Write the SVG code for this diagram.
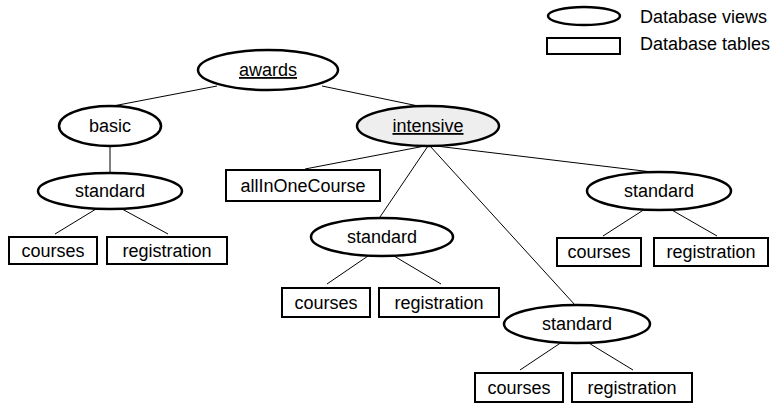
<svg xmlns="http://www.w3.org/2000/svg" width="775" height="410" viewBox="0 0 775 410">
<style>
  text { font-family: "Liberation Sans", Arial, sans-serif; font-size: 18px; fill: #000; text-anchor: middle; }
  .view { fill: #fff; stroke: #000; stroke-width: 2.5; }
  .view.sel { fill: #eeeeee; }
  .table { fill: #fff; stroke: #000; stroke-width: 2; }
  .edge { stroke: #000; stroke-width: 1; fill: none; }
  .u { text-decoration: underline; }
  .leg { text-anchor: start; }
</style>
<rect width="775" height="410" fill="#fff"/>
<g id="connectors">
  <line class="edge" x1="113" y1="106" x2="217" y2="86"/>
  <line class="edge" x1="322" y1="86" x2="423" y2="107"/>
  <line class="edge" x1="110" y1="146" x2="110" y2="173"/>
  <line class="edge" x1="96" y1="209" x2="55" y2="234"/>
  <line class="edge" x1="122" y1="209" x2="168" y2="234"/>
  <line class="edge" x1="425" y1="146" x2="305" y2="169"/>
  <line class="edge" x1="428" y1="146" x2="380" y2="217"/>
  <line class="edge" x1="430" y1="146" x2="575" y2="305"/>
  <line class="edge" x1="436" y1="146" x2="652" y2="172"/>
  <line class="edge" x1="368" y1="256" x2="327" y2="284"/>
  <line class="edge" x1="394" y1="256" x2="441" y2="284"/>
  <line class="edge" x1="645" y1="209" x2="603" y2="236"/>
  <line class="edge" x1="670" y1="209" x2="717" y2="236"/>
  <line class="edge" x1="562" y1="342" x2="520" y2="370"/>
  <line class="edge" x1="587" y1="342" x2="633" y2="370"/>
</g>
<g id="legend">
  <ellipse class="view" cx="584" cy="16" rx="36" ry="9"/>
  <rect class="table" x="547" y="38" width="73" height="16"/>
  <text class="leg" x="640" y="23">Database views</text>
  <text class="leg" x="640" y="50">Database tables</text>
</g>
<g id="awards">
  <ellipse class="view" cx="268" cy="70" rx="70" ry="20"/>
  <text class="u" x="268" y="76">awards</text>
</g>
<g id="basic">
  <ellipse class="view" cx="110" cy="126" rx="51" ry="20"/>
  <text x="110" y="132">basic</text>
</g>
<g id="intensive">
  <ellipse class="view sel" cx="428" cy="126" rx="71" ry="20"/>
  <text class="u" x="428" y="132">intensive</text>
</g>
<g id="standard1">
  <ellipse class="view" cx="110" cy="191" rx="72" ry="18"/>
  <text x="110" y="197">standard</text>
</g>
<g id="courses1">
  <rect class="table" x="9" y="237" width="88" height="27"/>
  <text x="53" y="257">courses</text>
</g>
<g id="registration1">
  <rect class="table" x="107" y="237" width="120" height="27"/>
  <text x="167" y="257">registration</text>
</g>
<g id="allInOneCourse">
  <rect class="table" x="226" y="170" width="154" height="31"/>
  <text x="303" y="192">allInOneCourse</text>
</g>
<g id="standard2">
  <ellipse class="view" cx="382" cy="237" rx="71" ry="19"/>
  <text x="382" y="243">standard</text>
</g>
<g id="courses2">
  <rect class="table" x="282" y="288" width="88" height="29"/>
  <text x="326" y="309">courses</text>
</g>
<g id="registration2">
  <rect class="table" x="379" y="288" width="120" height="29"/>
  <text x="439" y="309">registration</text>
</g>
<g id="standard3">
  <ellipse class="view" cx="659" cy="191" rx="72" ry="19"/>
  <text x="659" y="197">standard</text>
</g>
<g id="courses3">
  <rect class="table" x="557" y="238" width="84" height="28"/>
  <text x="599" y="258">courses</text>
</g>
<g id="registration3">
  <rect class="table" x="654" y="238" width="114" height="28"/>
  <text x="711" y="258">registration</text>
</g>
<g id="standard4">
  <ellipse class="view" cx="577" cy="324" rx="73" ry="19"/>
  <text x="577" y="330">standard</text>
</g>
<g id="courses4">
  <rect class="table" x="475" y="373" width="88" height="29"/>
  <text x="519" y="394">courses</text>
</g>
<g id="registration4">
  <rect class="table" x="572" y="373" width="120" height="29"/>
  <text x="632" y="394">registration</text>
</g>
</svg>
